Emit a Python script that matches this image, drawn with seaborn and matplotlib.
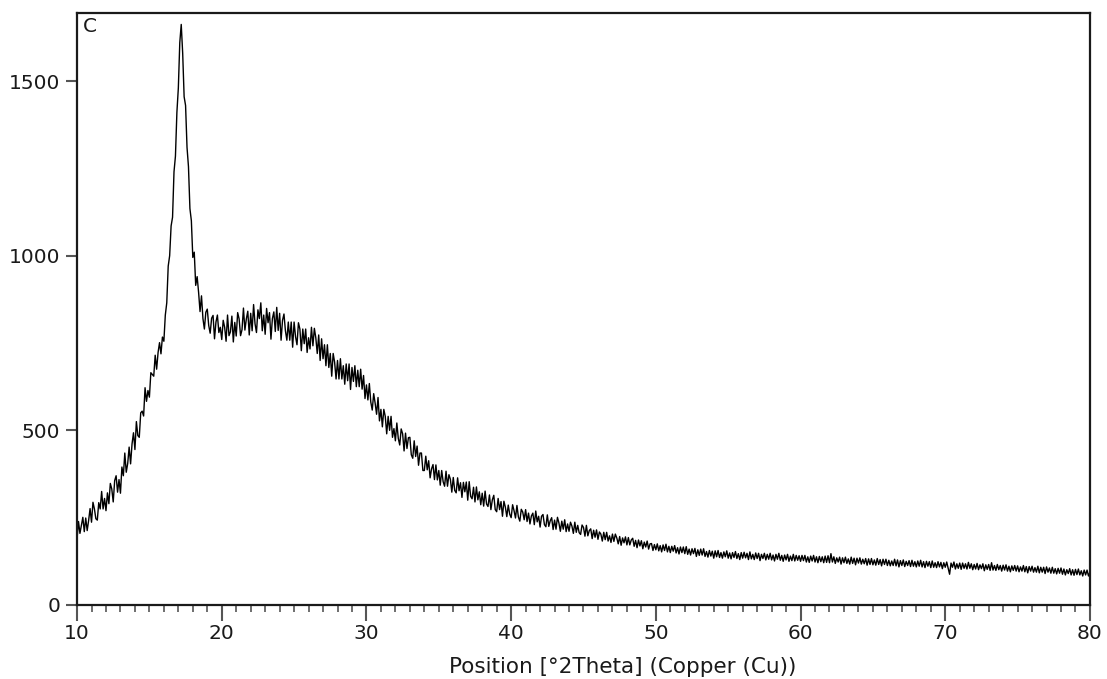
import numpy as np
import pandas as pd
import matplotlib
matplotlib.use('Agg')
import matplotlib.pyplot as plt
import seaborn as sns
from matplotlib.ticker import MultipleLocator

# scan settings (degrees 2Theta)
scan_start = 10.0
scan_step = 0.1

# counts, one block per 10 degrees
counts_10_20 = [190, 239, 205, 228, 251, 210, 249, 213, 242, 276,
                237, 294, 275, 247, 243, 293, 275, 325, 275, 305,
                270, 321, 290, 348, 332, 295, 356, 370, 323, 359,
                320, 395, 370, 435, 380, 405, 452, 404, 461, 493,
                445, 525, 485, 480, 550, 555, 541, 622, 583, 614,
                595, 665, 660, 655, 715, 675, 723, 751, 719, 767,
                755, 830, 865, 970, 1000, 1085, 1110, 1240, 1285, 1410,
                1480, 1610, 1662, 1580, 1455, 1430, 1310, 1255, 1135, 1100,
                995, 1010, 915, 940, 895, 840, 885, 820, 790, 838,
                847, 800, 778, 821, 829, 762, 810, 830, 780, 795]
counts_20_30 = [760, 815, 795, 755, 830, 771, 782, 827, 753, 809,
                770, 837, 819, 771, 788, 850, 787, 819, 841, 773,
                835, 785, 860, 805, 780, 845, 820, 865, 785, 830,
                775, 849, 808, 837, 761, 820, 839, 783, 852, 786,
                835, 758, 815, 833, 785, 758, 810, 758, 810, 738,
                810, 768, 745, 808, 790, 728, 790, 748, 790, 723,
                765, 733, 795, 742, 792, 765, 720, 773, 700, 762,
                705, 745, 685, 745, 680, 720, 655, 720, 695, 647,
                700, 647, 705, 647, 685, 632, 690, 642, 690, 617,
                680, 640, 685, 625, 672, 625, 675, 618, 657, 591]
counts_30_40 = [630, 587, 634, 581, 558, 605, 578, 546, 594, 527,
                560, 510, 560, 540, 490, 540, 500, 540, 480, 505,
                470, 521, 477, 458, 504, 490, 441, 492, 448, 479,
                480, 430, 420, 470, 425, 455, 400, 435, 435, 385,
                385, 426, 387, 413, 364, 390, 402, 359, 401, 358,
                385, 343, 385, 353, 340, 383, 340, 373, 360, 323,
                365, 328, 321, 364, 327, 350, 308, 351, 324, 352,
                300, 353, 311, 304, 337, 295, 338, 301, 324, 287,
                320, 283, 326, 289, 282, 315, 273, 301, 314, 273,
                267, 305, 273, 296, 254, 297, 280, 253, 286, 260]
counts_40_50 = [250, 287, 270, 249, 285, 252, 240, 274, 266, 244,
                273, 239, 263, 232, 255, 263, 230, 269, 238, 254,
                223, 254, 259, 230, 224, 258, 225, 241, 250, 216,
                243, 217, 251, 235, 211, 240, 217, 244, 210, 232,
                211, 237, 226, 205, 237, 208, 228, 207, 202, 229,
                222, 197, 228, 198, 213, 218, 190, 214, 194, 215,
                188, 209, 203, 183, 208, 187, 208, 183, 198, 179,
                203, 182, 203, 192, 175, 196, 171, 192, 178, 195,
                172, 193, 172, 186, 191, 168, 185, 164, 186, 169,
                184, 161, 180, 166, 183, 160, 175, 176, 156, 173]
counts_50_60 = [158, 175, 155, 170, 152, 172, 156, 174, 152, 168,
                150, 168, 154, 170, 149, 164, 146, 166, 150, 166,
                147, 167, 145, 160, 143, 161, 147, 162, 139, 158,
                142, 160, 143, 161, 139, 153, 137, 156, 140, 154,
                134, 155, 138, 156, 136, 150, 134, 152, 138, 155,
                134, 149, 132, 150, 136, 153, 133, 147, 130, 150,
                134, 151, 135, 148, 130, 152, 132, 145, 130, 149,
                133, 148, 127, 145, 133, 148, 129, 145, 131, 148,
                129, 143, 126, 145, 131, 148, 128, 142, 125, 143,
                129, 145, 125, 140, 127, 145, 126, 142, 128, 141]
counts_60_70 = [125, 142, 127, 142, 123, 138, 122, 140, 126, 142,
                123, 138, 121, 139, 124, 138, 121, 140, 122, 141,
                121, 147, 123, 138, 119, 135, 123, 137, 117, 135,
                121, 137, 119, 132, 117, 137, 119, 134, 115, 134,
                120, 135, 117, 131, 118, 133, 114, 132, 116, 133,
                115, 129, 114, 133, 116, 130, 112, 131, 116, 131,
                113, 128, 112, 126, 113, 131, 112, 129, 109, 127,
                113, 129, 110, 125, 113, 127, 110, 128, 111, 124,
                109, 126, 111, 128, 109, 124, 107, 125, 111, 124,
                107, 126, 108, 121, 107, 124, 109, 122, 104, 121]
counts_70_80 = [108, 123, 105, 88, 120, 108, 123, 103, 118, 105,
                120, 102, 120, 105, 118, 103, 122, 105, 118, 101,
                116, 103, 119, 101, 115, 104, 118, 98, 115, 102,
                116, 99, 121, 100, 113, 99, 116, 101, 113, 97,
                114, 100, 115, 97, 111, 95, 112, 99, 113, 97,
                112, 95, 109, 97, 113, 95, 110, 92, 110, 97,
                111, 94, 107, 94, 111, 92, 108, 94, 108, 90,
                109, 94, 106, 91, 108, 91, 104, 89, 105, 91,
                106, 88, 103, 86, 101, 90, 104, 86, 101, 85,
                102, 87, 103, 86, 98, 83, 100, 86, 100, 83,
                94]

counts = (counts_10_20 + counts_20_30 + counts_30_40 + counts_40_50
          + counts_50_60 + counts_60_70 + counts_70_80)
two_theta = np.round(scan_start + scan_step * np.arange(len(counts)), 1)
df = pd.DataFrame({'two_theta': two_theta, 'counts': counts})

sns.set_style('white')
plt.rcParams['font.family'] = ['DejaVu Sans']

fig = plt.figure(figsize=(11.07, 6.79), dpi=100)
ax = fig.add_axes([0.0696, 0.109, 0.915, 0.872])

sns.lineplot(data=df, x='two_theta', y='counts', color='black',
             linewidth=1.0, ax=ax, estimator=None)

ax.set_xlim(10, 80)
ax.set_ylim(0, 1695)
ax.xaxis.set_major_locator(MultipleLocator(10))
ax.xaxis.set_minor_locator(MultipleLocator(1))
ax.set_yticks([0, 500, 1000, 1500])

ax.tick_params(axis='x', which='major', direction='out', length=11.5, width=1.5,
               color='#555555', labelsize=14.5, labelcolor='#1a1a1a', pad=2, bottom=True)
ax.tick_params(axis='x', which='minor', direction='out', length=5, width=1.2,
               color='#555555', bottom=True)
ax.tick_params(axis='y', which='major', direction='out', length=8, width=1.5,
               color='#555555', labelsize=14.5, labelcolor='#1a1a1a', pad=4, left=True)

for s in ax.spines.values():
    s.set_color('#1a1a1a')
    s.set_linewidth(1.6)

ax.set_xlabel('Position [°2Theta] (Copper (Cu))', fontsize=15.5,
              color='#1a1a1a')
ax.xaxis.set_label_coords(0.539, -0.087)
ax.set_ylabel('')
ax.text(0.006, 0.993, 'C', transform=ax.transAxes, fontsize=14.5,
        color='#1a1a1a', ha='left', va='top')

fig.savefig('out.png', dpi=100)
